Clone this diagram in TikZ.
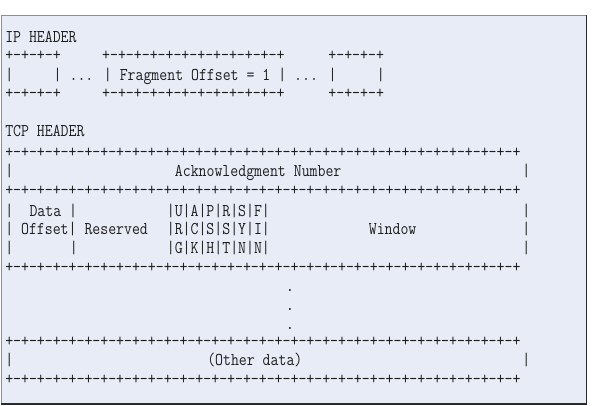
\documentclass[tikz,border=0pt]{standalone}
\usepackage{graphicx}
\definecolor{bg}{HTML}{E7ECF7}
\definecolor{ink}{HTML}{1E1E1E}
\definecolor{edgelight}{HTML}{8A8F99}
\definecolor{edgedark}{HTML}{2A2A2A}
\tikzset{
  txt/.style={anchor=base west, inner sep=0pt, outer sep=0pt, text=ink,
              font=\fontsize{18}{19}\selectfont\ttfamily},
  dotmark/.style={anchor=base, inner sep=0pt, outer sep=0pt, text=ink,
              font=\fontsize{18}{19}\selectfont\ttfamily}
}
\newcommand\pairs{+-+-+-+-}
\newcommand\fullplus{\pairs\pairs\pairs\pairs\pairs\pairs\pairs\pairs+}
\newcommand\seg[4]{\node[txt] (#1) at ({5.26+8.08*#3},#2) {\scalebox{0.855}[1]{#4}};}
\begin{document}
\begin{tikzpicture}[x=1pt,y=-1pt]
\useasboundingbox (0,0) rectangle (599,406);
% panel
\fill[bg] (1,15.5) rectangle (586.5,404);
\draw[edgelight, line width=0.9pt] (1,404) -- (1,15.5) -- (586.5,15.5);
\draw[edgedark, line width=1.3pt] (586.5,15.5) -- (586.5,404) -- (1,404);
% IP header
\seg{iph}{42.5}{0}{IP HEADER}
\seg{ipa1}{60.5}{0}{+-+-+-+}
\seg{ipb1}{60.5}{12}{\pairs\pairs+-+-+-+}
\seg{ipc1}{60.5}{40}{+-+-+-+}
\seg{ipa2}{81}{0}{|}
\seg{ipb2}{81}{6}{| ... | Fragment Offset = 1 | ... |}
\seg{ipc2}{81}{46}{|}
\seg{ipa3}{98.5}{0}{+-+-+-+}
\seg{ipb3}{98.5}{12}{\pairs\pairs+-+-+-+}
\seg{ipc3}{98.5}{40}{+-+-+-+}
% TCP header
\seg{tcph}{136.5}{0}{TCP HEADER}
\seg{r6}{158}{0}{\fullplus}
\seg{r7a}{177}{0}{|}
\seg{r7b}{177}{21}{Acknowledgment Number}
\seg{r7c}{177}{64}{|}
\seg{r8}{195.5}{0}{\fullplus}
\seg{r9a}{216}{0}{|}
\seg{r9b}{216}{3}{Data |}
\seg{r9c}{216}{20}{|U|A|P|R|S|F|}
\seg{r9d}{216}{64}{|}
\seg{r10a}{234.5}{0}{| Offset| Reserved}
\seg{r10b}{234.5}{20}{|R|C|S|S|Y|I|}
\seg{r10c}{234.5}{45}{Window}
\seg{r10d}{234.5}{64}{|}
\seg{r11a}{253.5}{0}{|}
\seg{r11b}{253.5}{8}{|}
\seg{r11c}{253.5}{20}{|G|K|H|T|N|N|}
\seg{r11d}{253.5}{64}{|}
\seg{r12}{272.5}{0}{\fullplus}
\node[dotmark] (d1) at (290,291) {.};
\node[dotmark] (d2) at (290,310) {.};
\node[dotmark] (d3) at (290,329) {.};
\seg{r16}{346.5}{0}{\fullplus}
\seg{r17a}{365.5}{0}{|}
\seg{r17b}{365.5}{25}{(Other data)}
\seg{r17c}{365.5}{64}{|}
\seg{r18}{384.5}{0}{\fullplus}
\end{tikzpicture}
\end{document}
